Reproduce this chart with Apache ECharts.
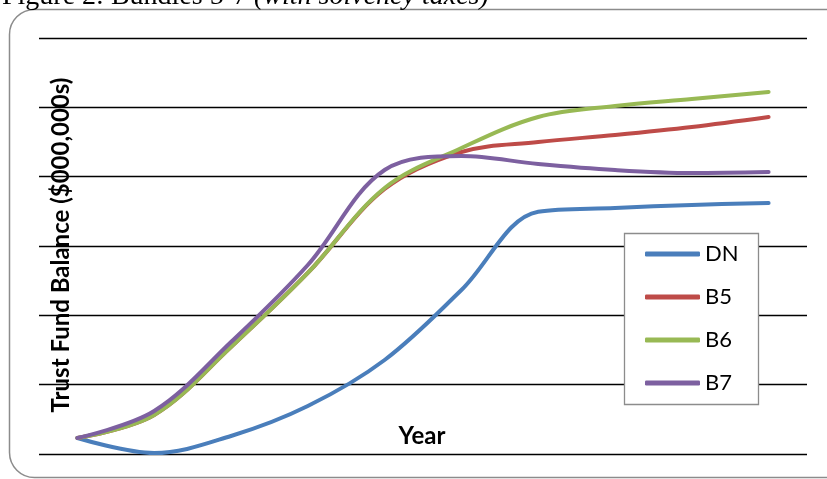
<!DOCTYPE html>
<html>
<head>
<meta charset="utf-8">
<style>
  html, body { margin: 0; padding: 0; background: #fff; }
  #chart { width: 827px; height: 479px; }
</style>
<script src="https://cdn.jsdelivr.net/npm/echarts@6/dist/echarts.min.js"></script>
</head>
<body>
<div id="chart"></div>
<script>
// Ten annual periods along the x axis (labels are not printed on the axis)
const periods = ['1', '2', '3', '4', '5', '6', '7', '8', '9', '10'];

// Trust fund balance by scenario, in gridline units (one gridline = 100)
const seriesNames = ['DN', 'B5', 'B6', 'B7'];
const dnValues = [23.1, 1.4, 26.0, 69.2, 135.6, 236.5, 349.5, 354.8, 359.2, 362.0];
const b5Values = [23.1, 56.3, 154.4, 261.1, 382.2, 435.6, 450.0, 460.1, 471.7, 486.1];
const b6Values = [23.1, 56.3, 154.4, 261.1, 383.7, 441.4, 486.1, 502.0, 512.1, 522.2];
const b7Values = [23.1, 62.0, 161.5, 272.6, 409.6, 429.8, 418.3, 409.6, 405.3, 406.7];

const yMin = 0, yMax = 600, yStep = 100;
const lineColors = ['#4A7EBB', '#BE4B48', '#98B954', '#7D60A0'];

const chart = echarts.init(document.getElementById('chart'), null, { renderer: 'canvas' });

const valueSets = [dnValues, b5Values, b6Values, b7Values];
const series = seriesNames.map((name, i) => ({
  name: name,
  type: 'line',
  data: valueSets[i],
  smooth: 0.35,
  symbol: 'none',
  lineStyle: { color: lineColors[i], width: 4, cap: 'round', join: 'round' },
  itemStyle: { color: lineColors[i] },
  z: 2 + i * 0.01
}));

chart.setOption({
  animation: false,
  backgroundColor: '#fff',
  color: lineColors,
  grid: { left: 39, right: 20, top: 38, bottom: 25, containLabel: false },
  xAxis: {
    type: 'category',
    data: periods,
    boundaryGap: true,
    axisLine: { show: false },
    axisTick: { show: false },
    axisLabel: { show: false },
    splitLine: { show: false }
  },
  yAxis: {
    type: 'value',
    min: yMin,
    max: yMax,
    interval: yStep,
    axisLine: { show: false },
    axisTick: { show: false },
    axisLabel: { show: false },
    splitLine: { show: true, lineStyle: { color: '#000', width: 1.3 } }
  },
  legend: {
    orient: 'vertical',
    left: 645,
    top: 243,
    padding: 0,
    itemWidth: 55,
    itemHeight: 5,
    itemGap: 21,
    icon: 'roundRect',
    data: seriesNames,
    textStyle: { fontFamily: 'Lato', fontSize: 22, lineHeight: 22, color: '#000' },
    z: 10
  },
  graphic: [
    {
      type: 'rect',
      z: 0,
      shape: { x: 9.5, y: 9.5, width: 840, height: 468, r: 25 },
      style: { fill: 'none', stroke: '#8c8c8c', lineWidth: 1.5 }
    },
    {
      type: 'text',
      z: 1,
      x: 2,
      y: -3,
      style: {
        text: '{n|Figure 2: Bundles 5-7 }{i|(with solvency taxes)}',
        rich: {
          n: { fontFamily: 'Liberation Serif', fontSize: 28, fill: '#000' },
          i: { fontFamily: 'Liberation Serif', fontSize: 28, fontStyle: 'italic', fill: '#000' }
        },
        align: 'left',
        verticalAlign: 'middle'
      }
    },
    {
      type: 'rect',
      z: 5,
      shape: { x: 624.5, y: 233.5, width: 134, height: 171 },
      style: { fill: '#fff', stroke: '#8c8c8c', lineWidth: 1.3 }
    },
    {
      type: 'text',
      z: 5,
      x: 61,
      y: 245,
      rotation: Math.PI / 2,
      style: {
        text: 'Trust Fund Balance ($000,000s)',
        fontFamily: 'Lato',
        fontWeight: 'bold',
        fontSize: 24,
        fill: '#000',
        align: 'center',
        verticalAlign: 'middle'
      }
    },
    {
      type: 'text',
      z: 5,
      x: 422,
      y: 436,
      style: {
        text: 'Year',
        fontFamily: 'Lato',
        fontWeight: 'bold',
        fontSize: 24,
        fill: '#000',
        align: 'center',
        verticalAlign: 'middle'
      }
    }
  ],
  series: series
});
</script>
</body>
</html>
